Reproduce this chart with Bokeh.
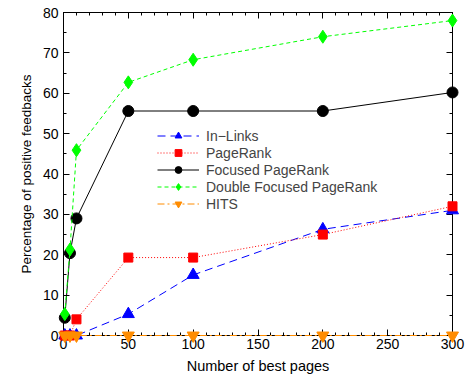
from bokeh.plotting import figure
from bokeh.models import Legend, LegendItem, LinearAxis, Range1d, SingleIntervalTicker
from bokeh.embed import file_html
from bokeh.resources import INLINE

pages = [1, 5, 10, 50, 100, 200, 300]
in_links = [0, 0, 0, 5.3, 15.0, 26.3, 31.0]
pagerank = [0, 0, 4.0, 19.3, 19.3, 25.0, 32.0]
focused = [4.4, 20.4, 29.0, 55.6, 55.6, 55.6, 60.2]
double_focused = [5.3, 21.3, 45.9, 62.7, 68.3, 74.0, 78.0]
hits = [0, 0, 0, 0, 0, 0, 0]

x_ticks = [0, 50, 100, 150, 200, 250, 300]
y_ticks = [0, 10, 20, 30, 40, 50, 60, 70, 80]

FONT = "Liberation Sans"

p = figure(width=468, height=376, output_backend="svg", toolbar_location=None,
           x_range=Range1d(0, 300), y_range=Range1d(0, 80),
           min_border_left=63, min_border_right=16, min_border_top=12, min_border_bottom=41)
p.xgrid.visible = False
p.ygrid.visible = False
p.outline_line_color = "black"
p.outline_line_width = 1
p.background_fill_color = "white"
p.border_fill_color = "white"

def style_axis(ax):
    ax.major_tick_in = 6
    ax.major_tick_out = 0
    ax.minor_tick_in = 3
    ax.minor_tick_out = 0
    ax.axis_line_color = "black"
    ax.major_tick_line_color = "black"
    ax.minor_tick_line_color = "black"
    ax.major_label_text_font = FONT
    ax.major_label_text_font_size = "14px"
    ax.major_label_text_color = "black"
    ax.axis_label_text_font = FONT
    ax.axis_label_text_font_style = "normal"
    ax.axis_label_text_color = "black"

p.xaxis.ticker = SingleIntervalTicker(interval=50, num_minor_ticks=5)
p.yaxis.ticker = SingleIntervalTicker(interval=10, num_minor_ticks=2)
p.xaxis.axis_label = "Number of best pages"
p.yaxis.axis_label = "Percentage of positive feedbacks"
style_axis(p.xaxis[0])
style_axis(p.yaxis[0])
p.xaxis.axis_label_text_font_size = "14.5px"
p.yaxis.axis_label_text_font_size = "13.5px"
p.xaxis.major_label_standoff = 3
p.yaxis.major_label_standoff = 5
p.xaxis.axis_label_standoff = 6
p.yaxis.axis_label_standoff = 6

top = LinearAxis(ticker=SingleIntervalTicker(interval=50, num_minor_ticks=5),
                 major_label_overrides={t: "" for t in x_ticks})
right = LinearAxis(ticker=SingleIntervalTicker(interval=10, num_minor_ticks=2),
                   major_label_overrides={t: "" for t in y_ticks})
style_axis(top)
style_axis(right)
top.major_label_standoff = 0
right.major_label_standoff = 0
p.add_layout(top, "above")
p.add_layout(right, "right")

series = [
    ("In\u2212Links", in_links, "#0000ff", "8 5", "triangle", 12),
    ("PageRank", pagerank, "#ff0000", "1 2", "square", 9),
    ("Focused PageRank", focused, "#000000", "solid", "circle", 11),
    ("Double Focused PageRank", double_focused, "#00ff00", "4 3", "diamond", 13),
    ("HITS", hits, "#ff8c00", "7 3 2 3", "inverted_triangle", 12),
]

items = []
for label, ys, color, dash, marker, size in series:
    l = p.line(pages, ys, line_color=color, line_dash=dash, line_width=1, level="overlay")
    s = p.scatter(pages, ys, marker=marker, size=size, fill_color=color, line_color=color, level="overlay")
    items.append(LegendItem(label=label, renderers=[l, s]))

legend = Legend(items=items, location=(94, 123), border_line_color=None,
                background_fill_alpha=0, label_text_font=FONT, label_text_font_size="14px",
                glyph_width=42, glyph_height=17, label_height=17, spacing=0,
                padding=4, margin=0, label_standoff=7)
p.add_layout(legend, "center")

open("out.html", "w").write(file_html(p, INLINE))
